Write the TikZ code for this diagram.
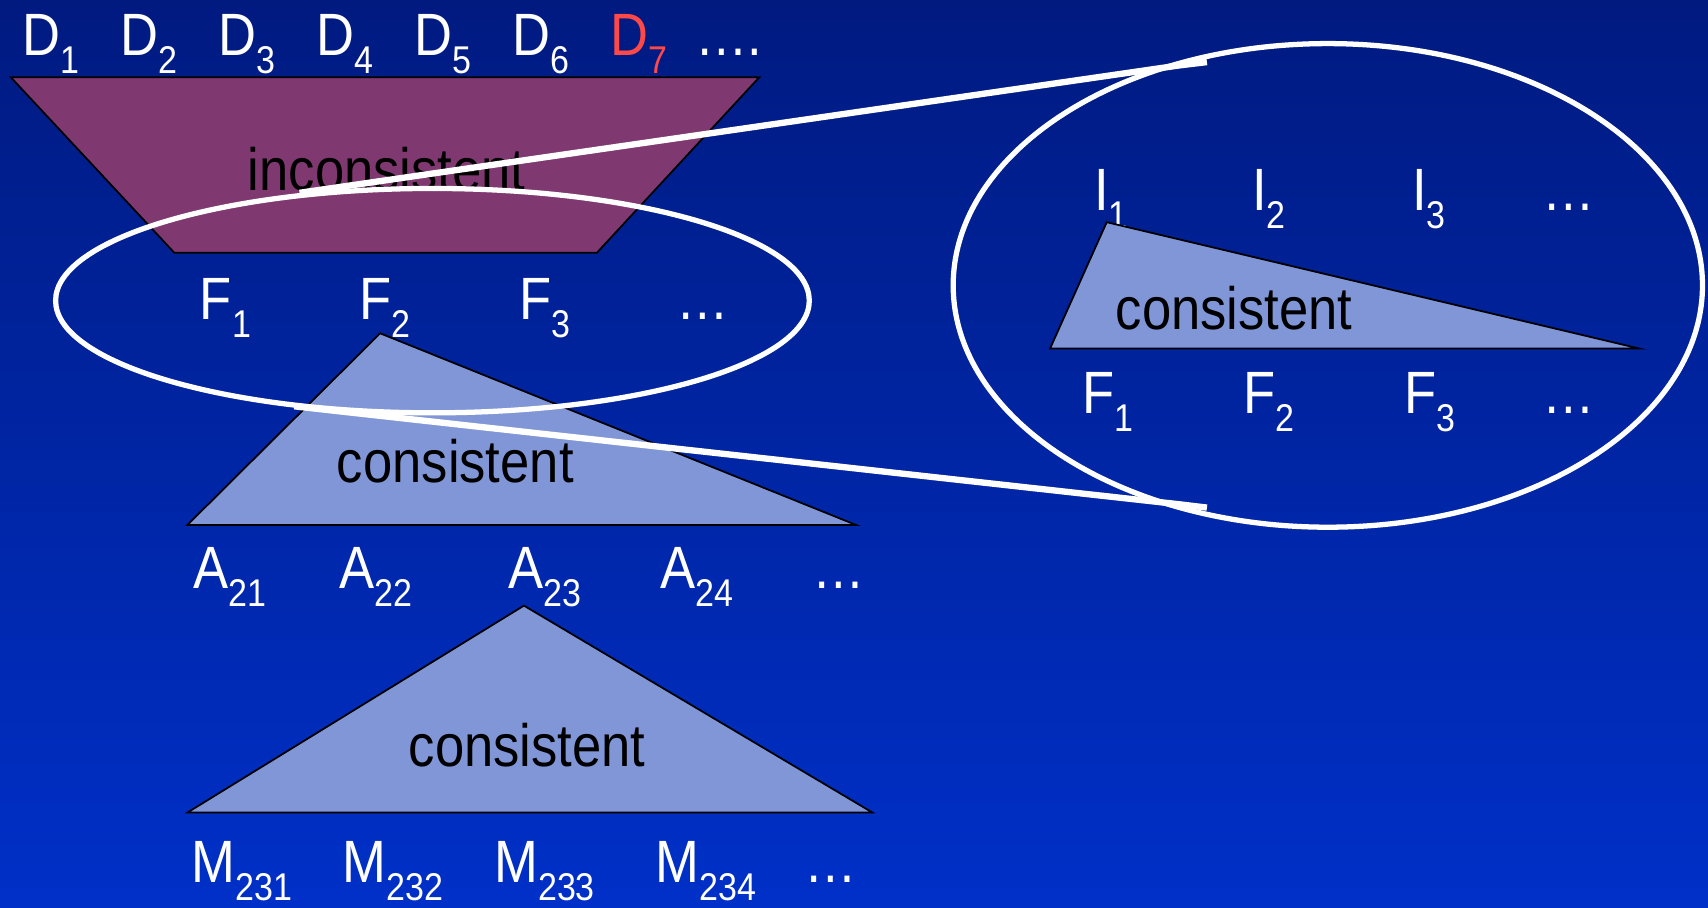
\documentclass[tikz,border=0pt]{standalone}
\usepackage{fontspec}
\setmainfont[FakeStretch=0.88]{Liberation Sans}
\usetikzlibrary{shapes.geometric}
\definecolor{bgTop}{RGB}{0,26,128}
\definecolor{bgBot}{RGB}{0,48,200}
\definecolor{cPlum}{RGB}{128,56,112}
\definecolor{cPeri}{RGB}{128,150,215}
\definecolor{cRedD}{RGB}{255,72,72}
\newcommand{\sbs}[1]{\raisebox{-0.3em}{\fontsize{11}{12}\selectfont #1}}
\tikzset{
  lbl/.style={anchor=base,text=white,inner sep=0pt,font=\fontsize{17}{20}\selectfont},
  inlbl/.style={text=black,inner sep=0pt,font=\fontsize{17}{20}\selectfont},
  trap/.style={draw=black,line width=0.5pt,fill=cPlum},
  tri/.style={draw=black,line width=0.5pt,fill=cPeri},
  zoomring/.style={ellipse,draw=white,line width=1.5pt,inner sep=0pt},
  zoomline/.style={draw=white,line width=1.8pt}
}

\begin{document}
\begin{tikzpicture}[x=0.010893cm,y=-0.010893cm]
  \useasboundingbox (0,0) rectangle (1568,833);
  \shade[top color=bgTop,bottom color=bgBot] (0,0) rectangle (1568,833);

  % data row and the inconsistent block
  \foreach \i in {1,...,6}
    \node[lbl] (d\i) at ({-43+90*\i},51) {D\sbs{\i}};
  \node[lbl,text=cRedD] (d7) at (587,51) {D\sbs{7}};
  \node[lbl] (ddots) at (669,51) {\ldots.};
  \draw[trap] (10,71) -- (697,71) -- (548,232) -- (160,232) -- cycle;
  \node[inlbl] (incons) at (355,155) {inconsistent};

  % F row
  \foreach \i/\x in {1/207,2/353,3/500}
    \node[lbl] (f\i) at (\x,293) {F\sbs{\i}};
  \node[lbl] (fdots) at (645,293) {\ldots};

  % first consistent block
  \draw[tri] (349,306) -- (786,482) -- (172,482) -- cycle;
  \node[inlbl] (consA) at (418,423) {consistent};
  \foreach \i/\x in {1/211,2/345,3/500,4/640}
    \node[lbl] (a\i) at (\x,540) {A\sbs{2\i}};
  \node[lbl] (adots) at (770,540) {\ldots};

  % second consistent block
  \draw[tri] (481,556) -- (801,746) -- (172,746) -- cycle;
  \node[inlbl] (consM) at (484,684) {consistent};
  \foreach \i/\x in {1/222,2/361,3/500,4/648}
    \node[lbl] (m\i) at (\x,810) {M\sbs{23\i}};
  \node[lbl] (mdots) at (763,810) {\ldots};

  % zoomed view
  \foreach \i/\x in {1/1020,2/1165,3/1312}
    \node[lbl] (i\i) at (\x,193) {I\sbs{\i}};
  \node[lbl] (idots) at (1440,193) {\ldots};
  \draw[tri] (1016,204) -- (1505,320) -- (964,320) -- cycle;
  \node[inlbl] (consI) at (1133,283) {consistent};
  \foreach \i/\x in {1/1017,2/1165,3/1313}
    \node[lbl] (g\i) at (\x,380) {F\sbs{\i}};
  \node[lbl] (gdots) at (1440,380) {\ldots};

  % rings and zoom lines
  \node[zoomring,minimum width=7.538cm,minimum height=2.244cm] (lz) at (397,276) {};
  \node[zoomring,minimum width=7.494cm,minimum height=4.837cm] (rz) at (1219,262) {};
  \coordinate (zu1) at (275,177);
  \coordinate (zu2) at (1083,60);
  \coordinate (zu3) at (1108,57);
  \coordinate (zl1) at (270,373);
  \coordinate (zl2) at (1083,463);
  \coordinate (zl3) at (1108,466);
  \draw[zoomline] (zu1) -- (zu2) -- (zu3);
  \draw[zoomline] (zl1) -- (zl2) -- (zl3);
\end{tikzpicture}
\end{document}
